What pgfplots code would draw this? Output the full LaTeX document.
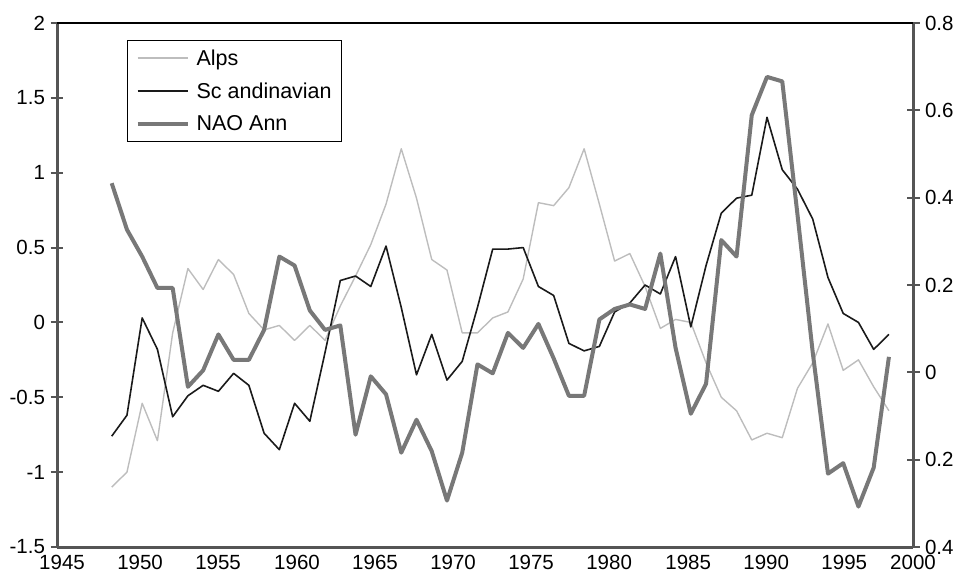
\documentclass[border=0pt]{standalone}
\usepackage{fontspec}
\setmainfont{Liberation Sans}
\usepackage{pgfplots}
\pgfplotsset{compat=1.18}
\usepackage{pgfplotstable}

\definecolor{alpsc}{HTML}{BDBDBD}
\definecolor{scandc}{HTML}{1A1A1A}
\definecolor{naoc}{HTML}{787878}
\definecolor{axc}{HTML}{555555}

\pgfplotstableread{
year alps scand nao
1947 -1.10 -0.76 0.93
1948 -1.00 -0.62 0.62
1949 -0.54 0.03 0.44
1950 -0.79 -0.18 0.23
1951 -0.07 -0.63 0.23
1952 0.36 -0.49 -0.43
1953 0.22 -0.42 -0.32
1954 0.42 -0.46 -0.08
1955 0.32 -0.34 -0.25
1956 0.06 -0.42 -0.25
1957 -0.05 -0.74 -0.05
1958 -0.02 -0.85 0.44
1959 -0.12 -0.54 0.38
1960 -0.02 -0.66 0.08
1961 -0.12 -0.20 -0.05
1962 0.11 0.28 -0.02
1963 0.31 0.31 -0.75
1964 0.52 0.24 -0.36
1965 0.79 0.51 -0.48
1966 1.16 0.10 -0.87
1967 0.83 -0.35 -0.65
1968 0.42 -0.08 -0.86
1969 0.35 -0.385 -1.19
1970 -0.07 -0.26 -0.87
1971 -0.07 0.10 -0.28
1972 0.03 0.49 -0.34
1973 0.07 0.49 -0.07
1974 0.29 0.50 -0.17
1975 0.80 0.24 -0.01
1976 0.78 0.18 -0.24
1977 0.90 -0.14 -0.49
1978 1.16 -0.19 -0.49
1979 0.79 -0.16 0.02
1980 0.41 0.07 0.09
1981 0.46 0.13 0.12
1982 0.24 0.25 0.09
1983 -0.04 0.19 0.46
1984 0.02 0.44 -0.17
1985 0.00 -0.03 -0.61
1986 -0.27 0.38 -0.41
1987 -0.50 0.73 0.55
1988 -0.59 0.83 0.44
1989 -0.785 0.85 1.385
1990 -0.74 1.37 1.64
1991 -0.77 1.02 1.61
1992 -0.44 0.89 0.72
1993 -0.27 0.69 -0.20
1994 -0.01 0.30 -1.01
1995 -0.32 0.06 -0.94
1996 -0.25 0.00 -1.23
1997 -0.43 -0.18 -0.97
1998 -0.59 -0.08 -0.23
}\datatable

\begin{document}
\begin{tikzpicture}[x=1pt,y=1pt]
\useasboundingbox (0,0) rectangle (957,576);
\begin{axis}[
  at={(57pt,29pt)}, anchor=south west,
  width=856pt, height=524pt, scale only axis,
  xmin=1943.41, xmax=1999.58,
  ymin=-1.5, ymax=2,
  axis x line*=bottom, axis y line*=left,
  axis line style={axc, line width=3pt, -},
  xtick={1943.74,1948.86,1953.98,1959.16,1964.28,1969.40,1974.52,1979.64,1984.83,1989.95,1995.07,1999.58},
  xticklabels={1945,1950,1955,1960,1965,1970,1975,1980,1985,1990,1995,2000},
  x tick style={draw=none},
  ytick={-1.5,-1,-0.5,0,0.5,1,1.5,2},
  yticklabels={-1.5,-1,-0.5,0,0.5,1,1.5,2},
  y tick style={axc, line width=2pt},
  tick align=center, major tick length=13pt,
  tick label style={font=\fontsize{20.5}{24}\selectfont},
  xticklabel style={anchor=north, yshift=1.5pt},
  yticklabel style={anchor=east, xshift=-2pt},
  legend style={at={(0.0818,0.9676)}, anchor=north west, draw=black, line width=1.2pt, fill=white,
    inner xsep=8pt, inner ysep=7pt, row sep=12pt,
    font=\fontsize{21.5}{24}\selectfont, cells={anchor=west}},
  legend image code/.code={\draw[#1, line cap=butt] (0pt,0pt) -- (50pt,0pt); \path (55pt,0pt);},
  clip=false,
]
\addplot[alpsc, line width=1.4pt, line join=round] table[x=year, y=alps] {\datatable};
\addlegendentry{Alps}
\addplot[scandc, line width=1.6pt, line join=round] table[x=year, y=scand] {\datatable};
\addlegendentry{Sc andinavian}
\addplot[naoc, line width=4pt, line join=round] table[x=year, y=nao] {\datatable};
\addlegendentry{NAO Ann}
\end{axis}
\begin{axis}[
  at={(57pt,29pt)}, anchor=south west,
  width=856pt, height=524pt, scale only axis,
  xmin=0, xmax=1, ymin=-0.4, ymax=0.8,
  axis x line=none, axis y line*=right,
  axis line style={axc, line width=3pt, -},
  ytick={-0.4,-0.2,0,0.2,0.4,0.6,0.8},
  yticklabels={0.4,0.2,0,0.2,0.4,0.6,0.8},
  y tick style={axc, line width=2pt},
  tick align=center, major tick length=13pt,
  tick label style={font=\fontsize{20.5}{24}\selectfont},
  yticklabel style={anchor=west, xshift=2pt},
]
\addplot[draw=none] coordinates {(0,0)};
\end{axis}
\draw[black, line width=2pt] (57,553) -- (913,553);
\end{tikzpicture}
\end{document}
